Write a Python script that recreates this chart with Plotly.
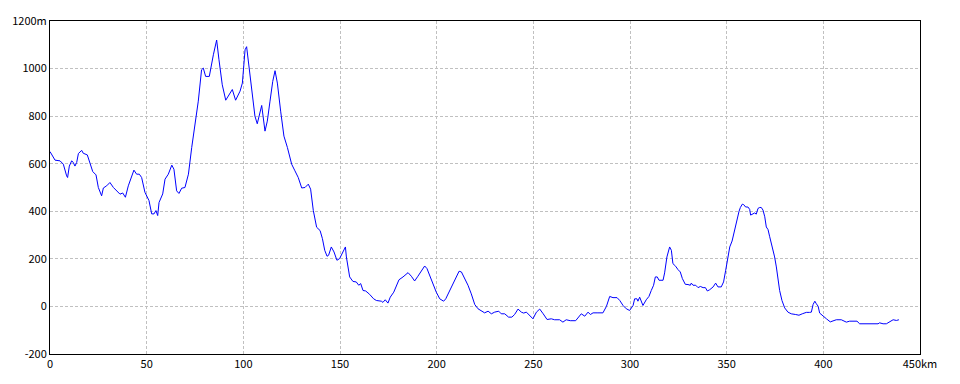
import plotly.graph_objects as go

dist_km = [0, 2.6, 5.2, 6.9, 8.6, 9.1, 10, 11.2, 12, 12.9, 13.8, 14.7, 16.4, 17.2, 19.3, 20.3, 22.1, 23.8, 25, 26.7,
           27.6, 29.3, 31, 32.8, 34.5, 36.2, 37.6, 39, 40.5, 42.2, 43.4, 44.8, 46.2, 47.4, 49.1, 51.2, 52.6, 53.8, 54.8, 55.7,
           56.4, 58.3, 59.5, 61.2, 63, 64.1, 65.5, 66.7, 68.1, 69.8, 71.6, 73.3, 75, 76.7, 78.4, 79.3, 80.5, 82.4, 84.5, 86.2,
           87.4, 89.1, 90.9, 93.1, 94.3, 96, 98.3, 99.5, 100.9, 101.7, 103.4, 104.7, 106, 107.2, 109.5, 111.2, 112.4, 113.8, 115.2, 116.4,
           117.6, 119.3, 121, 122.8, 125, 126.7, 128.4, 130.2, 131.9, 133.6, 134.8, 136.2, 137.9, 139.7,
           140.9, 142.1, 143.3, 144.1, 145.5, 146.9, 148.4, 149.8, 151.6, 152.8, 153.3, 154.1, 155, 156.7, 158.4, 159.7, 160.7, 161.9, 163.3, 165.3,
           167.4, 168.8, 171.4, 172.2, 173.4, 174.8, 176, 177.8, 179.1, 180.5, 182.6, 184.3, 185.2, 186.9, 188.6, 190.3, 192.1, 193.8, 195, 196.4,
           198.1, 199.8, 201.6, 203.6, 204.7, 206.4, 208.4, 210.2, 211.6, 212.8, 214.1, 216.2, 217.9, 219.7, 221.4, 223.1, 224.8, 226.6, 228.3, 230,
           232.1, 233.4, 235.2, 237.2, 238.9, 240.3, 242.1, 243.8, 245, 246.4, 247.8, 249.8, 251.6, 253.3, 255.1, 257.1, 259.3, 261, 263.6, 265.3,
           267, 269.1, 271.9, 273.6, 274.8, 276.6, 278.3, 279.5, 280.9, 283.4, 286, 287.8, 289.5, 291.2, 293.3, 294.7, 296.4, 298.1, 299.8,
           301.6, 302.4, 303.6, 304.1, 305, 305.9, 306.7, 308.4, 309.8, 311, 312.2, 313.1, 314.1, 315, 317.1, 317.9, 319.1, 320.5, 321.4, 322.2,
           323.6, 324.8, 326, 327.1, 328.6, 330, 331.2, 331.7, 332.6, 334, 335.2, 336.4, 337.8, 339, 340, 341.2, 343, 344.3, 345.5, 347.2,
           348.4, 349.5, 350.2, 351.6, 352.8, 354.1, 355.3, 356.4, 357.1, 358.1, 358.8, 359.8, 361, 361.9, 362.4, 363.6, 364.5, 365.3, 366.2, 367.1,
           367.9, 368.8, 369.7, 370.5, 371.4, 372.2, 373.6, 374.8, 375.7, 376.6, 377.4, 378.6, 380, 381.7, 383.4, 385.7, 387.4, 389.1, 391.2, 392.9,
           393.8, 394.7, 395.6, 396.4, 397.3, 398.1, 399.8, 401.6, 403.6, 405, 406.7, 409.3, 411, 411.9, 413.6, 415.3, 417.4, 418.8, 421.4, 424,
           428.3, 429.1, 430.9, 432.6, 434.3, 436.1, 437.8, 439.1]

elev_m = [651, 615, 612, 598, 549, 542, 590, 612, 606, 590, 605, 643, 656, 644, 637, 615, 567, 553, 500, 465,
          498, 507, 521, 500, 486, 472, 477, 459, 507, 542, 573, 556, 556, 542, 480, 445, 389, 389, 403, 382,
          437, 473, 535, 556, 594, 577, 486, 475, 497, 500, 556, 668, 758, 863, 995, 1002, 967, 967, 1058, 1120,
          1037, 932, 867, 900, 912, 867, 905, 939, 1079, 1092, 967, 870, 800, 768, 845, 737, 779, 863, 946, 991,
          939, 821, 716, 668, 598, 570, 542, 498, 500, 514, 493, 403, 333, 319,
          285, 236, 211, 215, 250, 229, 194, 201, 229, 250, 208, 159, 124, 105, 103, 89, 96, 67, 65, 51,
          32, 25, 22, 17, 28, 14, 39, 60, 82, 112, 124, 138, 142, 127, 107, 127, 149, 170, 159, 131,
          89, 60, 32, 22, 32, 60, 96, 127, 148, 145, 124, 89, 53, 8, -10, -20, -27, -20, -31, -24,
          -20, -31, -31, -45, -45, -34, -11, -24, -28, -24, -34, -52, -24, -11, -31, -55, -52, -56, -56, -66,
          -56, -60, -60, -45, -31, -41, -24, -34, -27, -27, -27, 0, 42, 37, 37, 25, 4, -10, -17,
          4, 32, 32, 22, 39, 22, 4, 28, 42, 67, 89, 124, 124, 110, 110, 141, 208, 250, 236, 180,
          169, 155, 145, 117, 93, 92, 89, 98, 89, 89, 79, 84, 79, 79, 65, 70, 82, 98, 82, 82,
          103, 152, 180, 250, 275, 320, 370, 400, 416, 430, 428, 418, 418, 408, 384, 391, 393, 388, 412, 416,
          416, 405, 377, 334, 323, 295, 250, 208, 166, 117, 67, 25, -6, -24, -31, -34, -37, -31, -25, -25,
          -24, 8, 22, 11, 1, -28, -38, -52, -65, -62, -56, -56, -62, -66, -62, -62, -62, -73, -73, -73,
          -73, -69, -73, -73, -63, -56, -59, -56]

x_tick_vals = [0, 50, 100, 150, 200, 250, 300, 350, 400, 450]
x_tick_text = ["0", "50", "100", "150", "200", "250", "300", "350", "400", "450km"]
y_tick_vals = [-200, 0, 200, 400, 600, 800, 1000, 1200]
y_tick_text = ["-200", "0", "200", "400", "600", "800", "1000", "1200m"]

fig = go.Figure()
fig.add_trace(go.Scatter(x=dist_km, y=elev_m, mode="lines",
                         line=dict(color="#0000ff", width=1), hoverinfo="skip"))

font = dict(family="Noto Sans CJK JP, DejaVu Sans", size=11, color="#000000")
fig.update_layout(
    width=960, height=384,
    margin=dict(l=50, r=40, t=19, b=30),
    paper_bgcolor="#ffffff", plot_bgcolor="#ffffff",
    showlegend=False,
    font=font,
)
fig.update_xaxes(range=[0, 450], tickvals=x_tick_vals, ticktext=x_tick_text,
                 showgrid=True, gridcolor="#c0c0c0", griddash="3px,2px", gridwidth=1,
                 showline=True, linecolor="#000000", linewidth=1, mirror=True,
                 zeroline=False, ticks="", tickfont=font)
fig.update_yaxes(range=[-200, 1200], tickvals=y_tick_vals, ticktext=y_tick_text,
                 showgrid=True, gridcolor="#c0c0c0", griddash="3px,2px", gridwidth=1,
                 showline=True, linecolor="#000000", linewidth=1, mirror=True,
                 zeroline=False, ticks="", tickfont=font)

fig.write_html("out.html")
